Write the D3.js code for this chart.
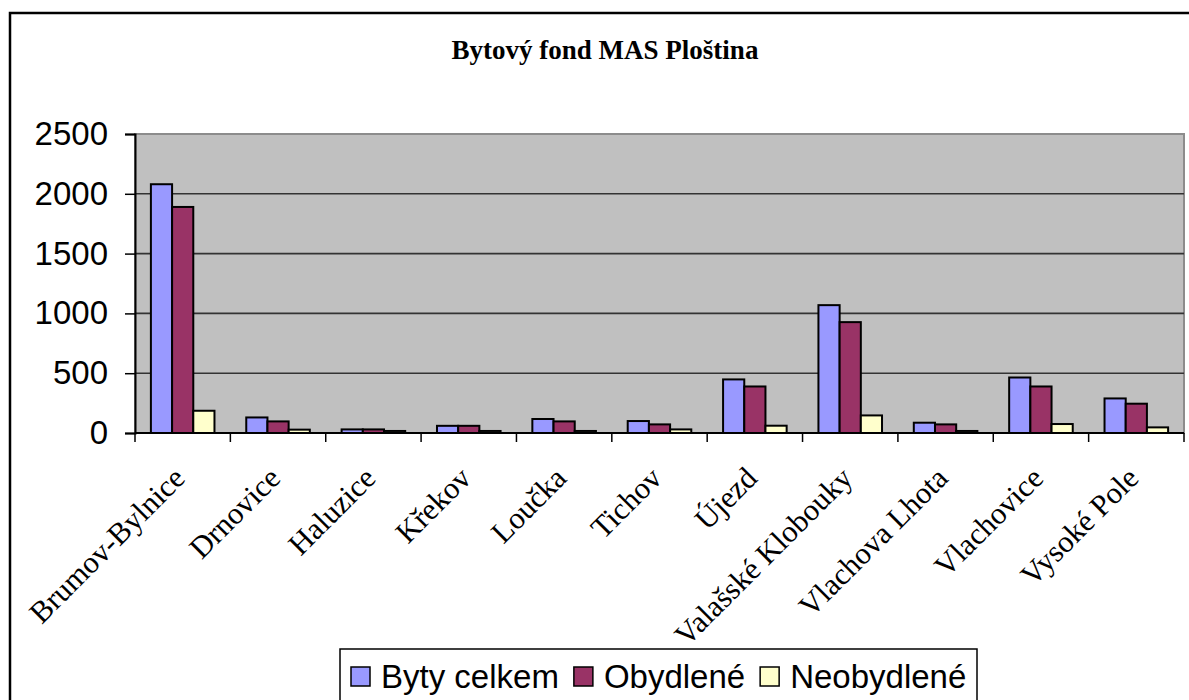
<!DOCTYPE html>
<html>
<head>
<meta charset="utf-8">
<script src="https://cdn.jsdelivr.net/npm/d3@7"></script>
<style>
  body { margin: 0; background: #fff; }
  svg { display: block; }
</style>
</head>
<body>
<div id="chart"></div>
<script>
// Data
var categories = ["Brumov-Bylnice", "Drnovice", "Haluzice", "Křekov", "Loučka", "Tichov",
  "Újezd", "Valašské Klobouky", "Vlachova Lhota", "Vlachovice", "Vysoké Pole"];
var seriesNames = ["Byty celkem", "Obydlené", "Neobydlené"];
var bytyCelkem = [2080, 130, 30, 60, 117, 100, 448, 1069, 86, 464, 289];
var obydlene   = [1890, 97, 30, 60, 97, 72, 389, 927, 72, 389, 245];
var neobydlene = [186, 28, 17, 17, 17, 30, 61, 147, 17, 75, 47];
var yTicks = [0, 500, 1000, 1500, 2000, 2500];
var colors = ["#9999ff", "#993366", "#ffffcc"];

var svgWidth = 1189, svgHeight = 700;

// plot area box
var plot = { left: 135, right: 1184, top: 134, bottom: 433 };

var svg = d3.select("#chart")
  .append("svg")
  .attr("width", svgWidth)
  .attr("height", svgHeight);

// outer chart frame
svg.append("rect")
  .attr("x", 10).attr("y", 13)
  .attr("width", 1200).attr("height", 720)
  .attr("fill", "#fff")
  .attr("stroke", "#000")
  .attr("stroke-width", 2.5);

// title
svg.append("text")
  .attr("x", 605)
  .attr("y", 59)
  .attr("text-anchor", "middle")
  .style("font-family", "'Liberation Serif', 'Times New Roman', serif")
  .style("font-weight", "bold")
  .style("font-size", "27px")
  .text("Bytový fond MAS Ploština");

// scales
var x = d3.scaleBand()
  .domain(categories)
  .range([plot.left, plot.right])
  .padding(0);

var xSub = d3.scaleBand()
  .domain(seriesNames)
  .range([0, x.bandwidth()])
  .paddingInner(0)
  .paddingOuter(0.75);

var y = d3.scaleLinear()
  .domain([0, 2500])
  .range([plot.bottom, plot.top]);

// plot background
svg.append("rect")
  .attr("x", plot.left).attr("y", plot.top)
  .attr("width", plot.right - plot.left)
  .attr("height", plot.bottom - plot.top)
  .attr("fill", "#c0c0c0")
  .attr("stroke", "#8c8c8c")
  .attr("stroke-width", 2);

// gridlines
svg.append("g")
  .selectAll("line")
  .data(yTicks.filter(d => d > 0 && d < 2500))
  .enter()
  .append("line")
  .attr("x1", plot.left).attr("x2", plot.right)
  .attr("y1", d => y(d)).attr("y2", d => y(d))
  .attr("stroke", "#333")
  .attr("stroke-width", 1.6);

// bars
var table = categories.map(function(c, i) {
  return { cat: c, values: [bytyCelkem[i], obydlene[i], neobydlene[i]] };
});

var groups = svg.append("g")
  .selectAll("g")
  .data(table)
  .enter()
  .append("g")
  .attr("transform", d => `translate(${x(d.cat)},0)`);

groups.selectAll("rect")
  .data(d => d.values.map((v, k) => ({ name: seriesNames[k], value: v, k: k })))
  .enter()
  .append("rect")
  .attr("x", d => xSub(d.name))
  .attr("y", d => y(d.value))
  .attr("width", xSub.bandwidth())
  .attr("height", d => y(0) - y(d.value))
  .attr("fill", d => colors[d.k])
  .attr("stroke", "#000")
  .attr("stroke-width", 2);

// y axis
var leftAxis = d3.axisLeft(y)
  .tickValues(yTicks)
  .tickSize(10)
  .tickPadding(17)
  .tickFormat(d3.format("d"));

var yAxisG = svg.append("g")
  .attr("transform", `translate(${plot.left},0)`)
  .call(leftAxis);
yAxisG.select(".domain").attr("stroke", "#000").attr("stroke-width", 2);
yAxisG.selectAll(".tick line").attr("stroke", "#000").attr("stroke-width", 1.5);
yAxisG.selectAll(".tick text")
  .style("font-family", "'Liberation Sans', Arial, sans-serif")
  .style("font-size", "33px")
  .attr("fill", "#000");

// x axis: baseline with ticks at category boundaries
svg.append("line")
  .attr("x1", plot.left).attr("x2", plot.right)
  .attr("y1", y(0)).attr("y2", y(0))
  .attr("stroke", "#000")
  .attr("stroke-width", 2);

svg.append("g")
  .selectAll("line")
  .data(categories.concat(["end"]))
  .enter()
  .append("line")
  .attr("x1", (d, i) => plot.left + i * x.step())
  .attr("x2", (d, i) => plot.left + i * x.step())
  .attr("y1", y(0)).attr("y2", y(0) + 9)
  .attr("stroke", "#000")
  .attr("stroke-width", 1.5);

// category labels, rotated
svg.append("g")
  .selectAll("text")
  .data(categories)
  .enter()
  .append("text")
  .attr("transform", d => `translate(${x(d) + x.bandwidth() / 2 + 4},${y(0) + 47}) rotate(-45)`)
  .attr("text-anchor", "end")
  .style("font-family", "'Liberation Serif', 'Times New Roman', serif")
  .style("font-size", "30.5px")
  .text(d => d);

// legend
var legend = svg.append("g");
legend.append("rect")
  .attr("x", 340).attr("y", 649)
  .attr("width", 637).attr("height", 60)
  .attr("fill", "#fff")
  .attr("stroke", "#000")
  .attr("stroke-width", 1.5);

var lx = 351;
seriesNames.forEach(function(name, k) {
  legend.append("rect")
    .attr("x", lx).attr("y", 667)
    .attr("width", 19).attr("height", 19)
    .attr("fill", colors[k])
    .attr("stroke", "#000")
    .attr("stroke-width", 1.5);
  var t = legend.append("text")
    .attr("x", lx + 30)
    .attr("y", 688)
    .style("font-family", "'Liberation Sans', Arial, sans-serif")
    .style("font-size", "33px")
    .text(name);
  lx = lx + 30 + t.node().getComputedTextLength() + 15;
});
</script>
</body>
</html>
